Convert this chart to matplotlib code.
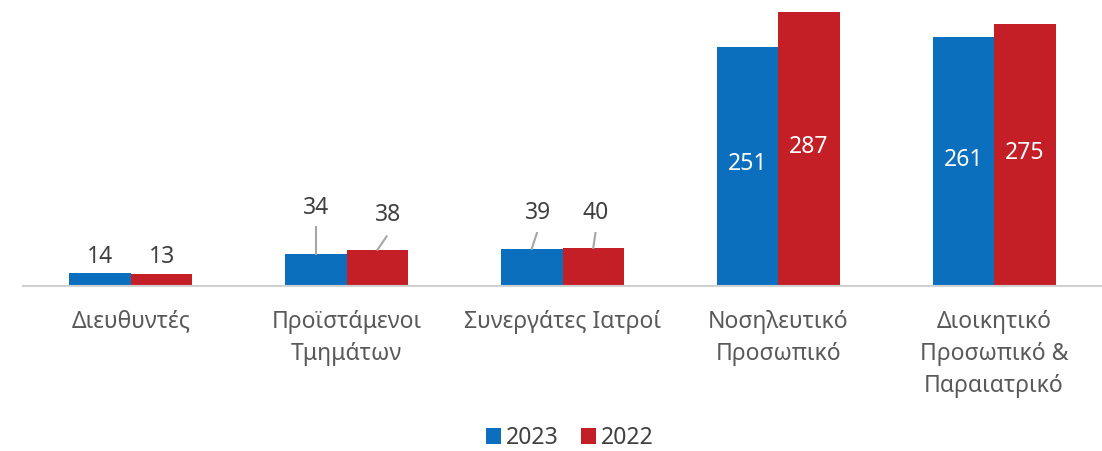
import numpy as np
import matplotlib
matplotlib.use("Agg")
import matplotlib.pyplot as plt

categories = ["Διευθυντές", "Προϊστάμενοι\nΤμημάτων", "Συνεργάτες Ιατροί",
              "Νοσηλευτικό\nΠροσωπικό", "Διοικητικό\nΠροσωπικό &\nΠαραιατρικό"]
vals_2023 = [14, 34, 39, 251, 261]
vals_2022 = [13, 38, 40, 287, 275]
series_names = ["2023", "2022"]

# label placement: (dx, y_text, y_line_end or None) or ("in",) for inside the bar
lbl_2023 = [(0.0, 30, None), (0.0, 82, 62), (0.028, 77, 55.5), ("in",), ("in",)]
lbl_2022 = [(0.0, 30, None), (0.05, 74, 52), (0.012, 77, 55.5), ("in",), ("in",)]

blue = "#0B6FBE"
red = "#C41F26"
txt = "#404040"
cat_col = "#595959"
plt.rcParams["font.family"] = ["Noto Sans", "DejaVu Sans"]

fig = plt.figure(figsize=(11.02, 4.51), dpi=100)
ax = fig.add_axes([23 / 1102, 1 - 286 / 451, 1 - 23 / 1102, 286 / 451])

x = np.arange(len(categories))
w = 0.285
ax.bar(x - w / 2, vals_2023, w, color=blue, label=series_names[0])
ax.bar(x + w / 2, vals_2022, w, color=red, label=series_names[1])

fs = 16.5
for xs, vals, lbls in ((x - w / 2, vals_2023, lbl_2023), (x + w / 2, vals_2022, lbl_2022)):
    for xi, v, lb in zip(xs, vals, lbls):
        if lb[0] == "in":
            ax.text(xi, v / 2 + 2, str(v), ha="center", va="center", color="white", fontsize=fs)
            continue
        dx, yt, yl = lb
        if yl is not None:
            ax.plot([xi, xi + dx * 0.85], [v, yl], color="#A6A6A6", lw=1.5, clip_on=False)
        ax.text(xi + dx, yt, str(v), ha="center", va="center", color=txt, fontsize=fs)

ax.set_xlim(-0.5, len(categories) - 0.5)
ax.set_ylim(0, 300)
ax.set_yticks([])
ax.set_xticks(x)
ax.set_xticklabels(categories, fontsize=fs, color=cat_col, linespacing=1.45, va="top")
ax.tick_params(axis="x", length=0, pad=17)
for s in ["top", "right", "left"]:
    ax.spines[s].set_visible(False)
ax.spines["bottom"].set_color("#D0D0D0")
ax.spines["bottom"].set_linewidth(1.5)

fig.legend(loc="center", bbox_to_anchor=(570 / 1102, 1 - 438 / 451), ncol=2,
           frameon=False, fontsize=fs, handlelength=0.65, handleheight=0.65,
           handletextpad=0.2, columnspacing=1.0, labelcolor=txt)

fig.savefig("out.png", dpi=100)
